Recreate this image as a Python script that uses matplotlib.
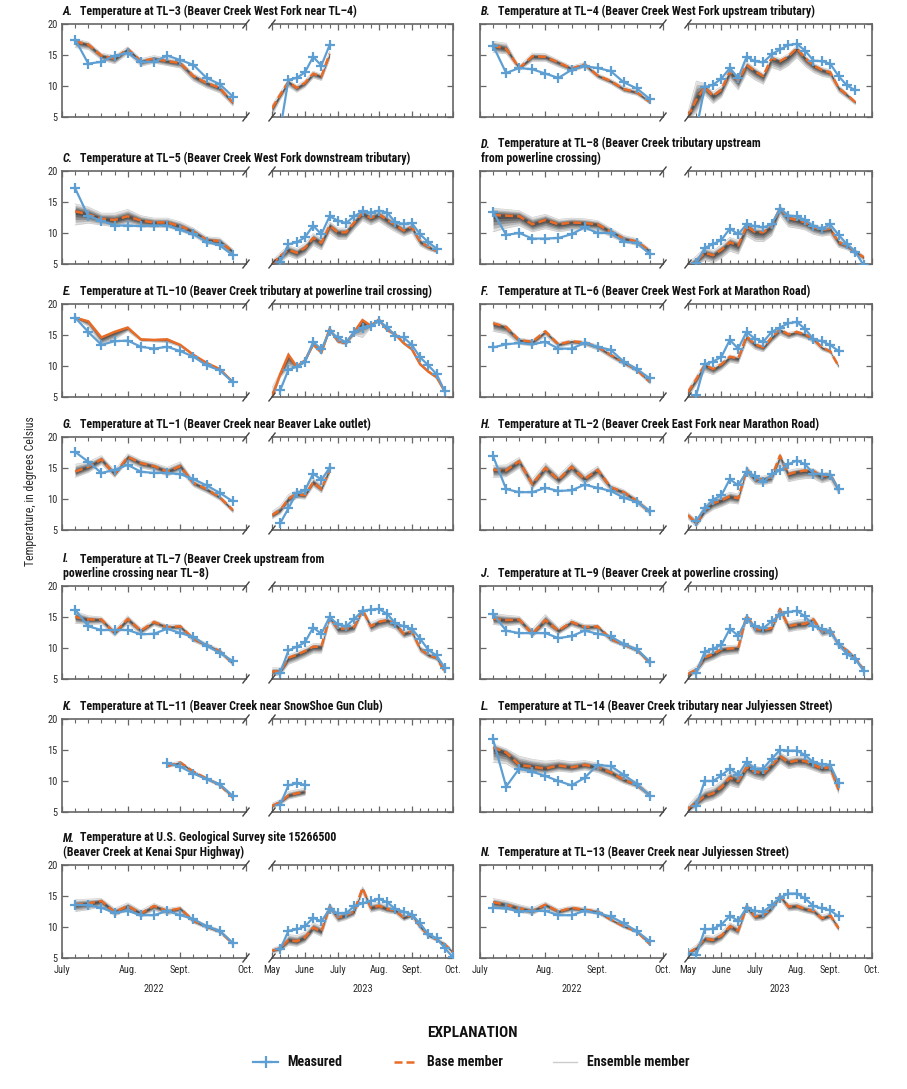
import numpy as np
import matplotlib
matplotlib.use("Agg")
import matplotlib.pyplot as plt
from matplotlib import font_manager

# ---------------- fonts ----------------
_names = {f.name for f in font_manager.fontManager.ttflist}
FONT = "DejaVu Sans"
for _n in ["Liberation Sans Narrow", "DejaVu Sans Condensed", "Roboto Condensed", "Liberation Sans"]:
    if _n in _names:
        FONT = _n
        break
plt.rcParams["font.family"] = [FONT, "DejaVu Sans"]

# ---------------- data (weekly temperatures, deg C) ----------------
# 2022 lists start at week index 1; 2023 lists start at week index 0
A22_meas = [17.5, 13.6, 13.9, 14.9, 15.3, 13.9, 13.9, 14.9, 14.2, 13.4, 11.3, 10.3, 8.3]
A22_base = [17.2, 16.7, 14.9, 14.4, 16.0, 14.0, 14.4, 14.0, 13.7, 11.6, 10.5, 9.7, 7.3]
A22_lo = [16.2, 15.9, 14.2, 13.6, 15.2, 13.2, 13.7, 13.3, 12.9, 10.8, 9.7, 8.9, 6.8]
A22_hi = [17.6, 17.1, 15.3, 14.9, 16.3, 14.4, 14.9, 14.5, 14.1, 12.0, 10.9, 10.1, 7.7]
A23_meas = [None, 3.0, 11.0, 11.3, 12.2, 14.7, 13.3, 16.6]
A23_base = [6.4, 8.6, 10.7, 9.7, 10.5, 12.0, 11.5, 15.2]
A23_lo = [5.3, 7.8, 9.9, 9.0, 9.8, 11.3, 10.9, 14.3]
A23_hi = [6.9, 9.0, 11.0, 10.1, 10.9, 12.4, 11.9, 15.6]

B22_meas = [16.5, 12.1, 12.9, 12.7, 12.0, 11.3, 12.6, 13.2, 12.9, 12.4, 10.6, 9.6, 7.9]
B22_base = [16.5, 16.0, 12.9, 14.8, 14.7, 13.8, 12.8, 13.5, 11.7, 10.8, 9.5, 9.0, 7.4]
B22_lo = [15.4, 15.2, 12.5, 14.0, 14.0, 13.1, 12.3, 13.0, 11.2, 10.3, 9.0, 8.5, 7.1]
B22_hi = [17.2, 16.9, 13.2, 15.3, 15.2, 14.2, 13.2, 13.8, 12.0, 11.1, 9.9, 9.3, 7.7]
B23_meas = [None, 3.0, 9.8, 10.2, 11.2, 12.9, 11.3, 14.7, 14.0, 13.8, 15.1, 15.9, 16.6, 16.8, 15.7, 14.1, 14.0, 13.6, 11.6, 10.1, 9.3]
B23_base = [5.1, 7.8, 9.8, 8.4, 9.4, 12.4, 10.8, 13.4, 12.4, 11.6, 14.5, 14.0, 14.8, 16.1, 14.5, 13.3, 12.6, 12.2, 9.7, 8.6, 7.4]
B23_lo = [4.5, 5.8, 8.6, 7.2, 8.2, 11.0, 9.4, 12.0, 11.0, 10.3, 13.0, 12.5, 13.3, 14.6, 13.2, 12.2, 11.6, 11.3, 9.0, 8.0, 7.0]
B23_hi = [5.8, 10.8, 10.4, 9.0, 10.0, 12.9, 11.3, 13.9, 12.9, 12.0, 14.9, 14.4, 15.2, 16.5, 14.9, 13.7, 13.0, 12.6, 10.1, 8.9, 7.6]

C22_meas = [17.2, 12.7, 12.0, 11.2, 11.2, 11.1, 11.2, 11.2, 10.5, 9.8, 8.6, 8.0, 6.4]
C22_base = [13.5, 13.0, 12.3, 12.1, 12.7, 12.0, 11.7, 11.7, 11.1, 10.2, 8.9, 8.7, 7.0]
C22_lo = [11.3, 11.6, 11.3, 11.0, 11.5, 11.0, 10.9, 10.9, 10.3, 9.5, 8.2, 8.0, 6.4]
C22_hi = [14.7, 14.2, 13.2, 13.2, 13.8, 12.8, 12.4, 12.4, 11.8, 10.8, 9.4, 9.2, 7.4]
C23_meas = [None, 5.3, 8.2, 8.5, 9.3, 11.2, 9.8, 12.7, 12.0, 11.6, 12.7, 13.5, 13.3, 13.6, 13.3, 11.7, 11.5, 11.6, 9.8, 8.5, 7.5]
C23_base = [5.0, 6.3, 7.3, 6.8, 7.6, 9.2, 8.4, 11.2, 10.1, 10.1, 11.7, 13.2, 12.4, 13.0, 12.1, 11.3, 10.4, 11.0, 8.6, 7.8, 7.1]
C23_lo = [4.6, 5.3, 6.3, 5.8, 6.5, 8.0, 7.3, 10.0, 9.0, 9.0, 10.6, 12.0, 11.3, 11.9, 11.0, 10.2, 9.5, 10.0, 7.9, 7.2, 6.8]
C23_hi = [5.5, 6.8, 8.0, 7.5, 8.3, 9.9, 9.1, 11.8, 10.8, 10.8, 12.4, 13.8, 13.1, 13.6, 12.7, 11.9, 11.0, 11.5, 9.1, 8.2, 7.4]

D22_meas = [13.4, 9.7, 10.0, 9.1, 9.1, 9.2, 9.8, 10.9, 10.0, 10.0, 8.6, 8.4, 6.6]
D22_base = [12.9, 12.8, 12.7, 11.4, 12.1, 11.4, 11.7, 11.6, 11.4, 10.2, 9.1, 8.6, 7.1]
D22_lo = [10.2, 10.8, 11.2, 10.2, 10.7, 10.2, 10.5, 10.5, 10.4, 9.4, 8.5, 8.0, 6.6]
D22_hi = [14.0, 13.8, 13.6, 12.5, 13.0, 12.2, 12.4, 12.3, 12.0, 10.8, 9.6, 9.1, 7.4]
D23_meas = [None, 5.2, 7.6, 8.2, 8.9, 10.7, 9.8, 11.4, 11.1, 10.9, 11.4, 13.9, 12.8, 12.7, 12.1, 11.1, 10.7, 11.4, 9.7, 8.2, 7.0, 4.8]
D23_base = [4.6, 5.5, 6.8, 6.4, 7.3, 8.5, 8.0, 11.1, 10.2, 10.1, 11.1, 14.0, 12.4, 12.1, 11.7, 10.9, 10.5, 10.7, 8.5, 8.0, 7.0, 6.1]
D23_lo = [4.3, 4.8, 5.6, 5.2, 6.0, 7.1, 6.6, 9.5, 8.7, 8.6, 9.6, 12.8, 11.0, 10.8, 10.5, 9.8, 9.5, 9.7, 7.7, 7.3, 6.5, 5.6]
D23_hi = [5.2, 6.3, 7.6, 7.2, 8.1, 9.3, 8.8, 11.8, 10.8, 10.7, 11.7, 14.4, 13.0, 12.7, 12.3, 11.4, 11.0, 11.2, 9.0, 8.4, 7.3, 6.4]

E22_meas = [17.8, 15.5, 13.4, 14.0, 14.1, 13.1, 12.8, 13.1, 12.4, 11.5, 10.1, 9.3, 7.4]
E22_base = [17.8, 17.2, 14.6, 15.5, 16.2, 14.3, 14.2, 14.3, 13.4, 11.8, 10.5, 9.5, 7.4]
E22_lo = [17.6, 16.4, 13.4, 14.3, 15.6, 14.0, 13.9, 13.8, 13.1, 11.6, 10.3, 9.3, 7.3]
E22_hi = [17.9, 17.3, 14.7, 15.6, 16.3, 14.4, 14.3, 14.4, 13.5, 11.9, 10.6, 9.6, 7.5]
E23_meas = [None, 6.1, 9.4, 9.9, 10.6, 13.9, 12.7, 15.6, 14.6, 13.8, 15.5, 16.2, 16.5, 17.2, 16.3, 14.8, 14.6, 13.4, 11.4, 10.1, 8.7, 5.9]
E23_base = [5.0, 8.7, 11.8, 9.9, 10.9, 13.5, 12.2, 16.0, 14.0, 13.7, 15.5, 17.4, 16.5, 17.5, 15.8, 15.1, 13.7, 12.7, 10.3, 9.1, 8.2, 5.9]
E23_lo = [4.6, 8.2, 9.6, 9.7, 10.6, 13.2, 11.9, 15.6, 13.7, 13.4, 15.0, 14.6, 16.2, 17.2, 15.6, 14.8, 13.5, 12.5, 10.1, 8.9, 8.0, 5.7]
E23_hi = [6.5, 9.0, 12.0, 10.1, 11.1, 13.7, 12.4, 16.2, 14.2, 13.9, 15.7, 17.5, 16.7, 17.6, 16.0, 15.3, 13.9, 12.9, 10.5, 9.3, 8.4, 6.1]

F22_meas = [13.0, 13.5, 13.7, 13.5, 13.9, 12.8, 12.8, 13.7, 13.1, 12.6, 10.7, 9.5, 8.0]
F22_base = [16.9, 16.3, 14.2, 13.9, 15.6, 13.5, 14.0, 13.8, 13.1, 11.8, 10.6, 9.4, 7.4]
F22_lo = [15.6, 15.2, 13.5, 13.2, 14.9, 13.0, 13.5, 13.3, 12.6, 11.3, 10.1, 9.0, 7.1]
F22_hi = [17.2, 16.6, 14.5, 14.2, 15.8, 13.8, 14.2, 14.0, 13.4, 12.1, 10.9, 9.7, 7.6]
F23_meas = [None, 5.4, 10.3, 10.7, 11.5, 14.2, 12.8, 15.5, 14.4, 13.9, 15.5, 16.2, 16.9, 17.1, 16.0, 14.3, 14.0, 13.4, 12.4]
F23_base = [5.8, 7.9, 10.2, 9.5, 10.3, 11.5, 11.2, 14.8, 13.5, 13.0, 14.6, 15.9, 15.1, 15.5, 15.1, 14.4, 13.0, 12.4, 10.0]
F23_lo = [5.0, 7.0, 9.1, 8.6, 9.4, 10.6, 10.4, 13.9, 12.7, 12.3, 13.8, 15.0, 14.4, 14.8, 14.4, 13.8, 12.5, 12.0, 9.7]
F23_hi = [6.2, 8.4, 10.5, 9.8, 10.6, 11.8, 11.5, 15.1, 13.8, 13.3, 14.9, 16.1, 15.4, 15.7, 15.3, 14.6, 13.2, 12.6, 10.2]

G22_meas = [17.6, 16.0, 14.2, 14.7, 15.5, 14.4, 14.2, 14.2, 14.0, 13.2, 12.2, 11.0, 9.6]
G22_base = [14.4, 15.2, 16.4, 14.0, 16.8, 15.8, 15.3, 14.4, 15.3, 12.6, 11.6, 10.3, 8.2]
G22_lo = [13.5, 14.3, 15.6, 13.5, 16.0, 15.0, 14.6, 13.7, 14.5, 12.0, 11.0, 9.8, 7.8]
G22_hi = [15.6, 16.0, 17.0, 14.6, 17.3, 16.3, 15.8, 15.1, 16.0, 13.0, 12.0, 10.6, 8.5]
G23_meas = [None, 6.1, 8.5, 11.0, 11.4, 14.1, 13.1, 15.0]
G23_base = [7.4, 8.2, 10.0, 10.8, 10.6, 12.7, 11.6, 14.7]
G23_lo = [6.8, 7.6, 9.3, 10.1, 10.0, 12.0, 11.0, 14.0]
G23_hi = [8.0, 8.9, 10.7, 11.4, 11.3, 13.4, 12.3, 15.6]

H22_meas = [16.9, 11.6, 11.1, 11.1, 11.8, 11.3, 11.4, 12.3, 11.8, 11.3, 10.2, 9.5, 8.1]
H22_base = [14.7, 14.6, 16.1, 12.4, 15.0, 13.1, 15.2, 13.2, 14.7, 11.9, 11.1, 9.7, 7.9]
H22_lo = [13.5, 13.6, 15.0, 11.6, 14.0, 12.3, 14.1, 12.4, 13.7, 11.2, 10.5, 9.2, 7.5]
H22_hi = [15.4, 15.5, 16.7, 13.2, 15.8, 13.8, 15.9, 13.9, 15.3, 12.3, 11.5, 10.1, 8.2]
H23_meas = [None, 6.5, 8.5, 9.9, 10.6, 13.2, 12.2, 14.4, 13.7, 12.7, 14.0, 14.6, 15.6, 16.2, 15.6, 14.1, 14.0, 13.9, 11.6]
H23_base = [7.4, 6.1, 8.2, 9.3, 9.8, 10.4, 10.1, 14.8, 13.2, 13.2, 13.5, 17.0, 14.0, 14.4, 14.6, 14.5, 13.6, 14.0, 11.5]
H23_lo = [6.8, 5.5, 7.4, 8.3, 8.8, 9.4, 9.2, 13.9, 12.4, 12.3, 12.6, 15.8, 12.8, 13.1, 13.3, 13.3, 12.6, 13.0, 10.8]
H23_hi = [7.8, 6.6, 9.0, 10.0, 10.5, 11.1, 10.8, 15.3, 13.7, 13.7, 14.0, 17.3, 14.6, 14.9, 15.0, 14.9, 14.1, 14.4, 11.9]

I22_meas = [16.2, 13.5, 12.9, 12.9, 12.9, 12.2, 12.3, 13.1, 12.4, 11.8, 10.4, 9.2, 7.9]
I22_base = [15.0, 14.6, 14.6, 12.4, 14.7, 12.8, 14.2, 13.4, 13.5, 11.5, 10.5, 9.5, 7.5]
I22_lo = [14.0, 13.8, 13.9, 11.9, 13.9, 12.2, 13.6, 12.9, 12.9, 11.0, 10.1, 9.1, 7.2]
I22_hi = [15.9, 15.2, 15.0, 12.9, 15.2, 13.2, 14.5, 13.7, 13.8, 11.8, 10.8, 9.8, 7.8]
I23_meas = [None, 6.0, 9.6, 10.2, 10.9, 13.3, 12.3, 15.0, 13.8, 13.5, 14.7, 16.0, 16.2, 16.3, 15.5, 14.0, 13.5, 13.1, 11.5, 9.7, 8.8, 6.8]
I23_base = [6.2, 6.2, 8.4, 8.9, 9.5, 10.2, 10.2, 15.0, 13.1, 13.1, 13.4, 16.2, 13.5, 14.2, 14.5, 13.9, 12.3, 12.7, 9.9, 8.9, 8.4, 6.2]
I23_lo = [5.6, 5.6, 7.4, 7.9, 8.5, 9.2, 9.2, 14.3, 12.2, 12.2, 12.6, 15.6, 12.6, 13.2, 13.5, 13.0, 11.6, 12.0, 9.3, 8.4, 8.0, 5.9]
I23_hi = [6.8, 6.8, 8.9, 9.4, 10.0, 10.7, 10.7, 15.2, 13.6, 13.6, 13.9, 16.4, 14.1, 14.7, 14.9, 14.3, 12.8, 13.1, 10.3, 9.3, 8.7, 6.5]

J22_meas = [15.5, 12.8, 12.4, 12.4, 12.4, 11.6, 11.9, 12.8, 12.3, 11.9, 10.6, 9.8, 7.8]
J22_base = [14.7, 14.5, 14.6, 12.3, 14.5, 12.8, 14.2, 13.4, 13.5, 11.5, 10.6, 9.7, 7.6]
J22_lo = [13.8, 13.6, 13.8, 11.8, 13.6, 12.2, 13.5, 12.8, 12.9, 11.0, 10.2, 9.3, 7.3]
J22_hi = [15.6, 15.3, 15.1, 13.0, 15.4, 13.3, 14.6, 13.8, 13.8, 11.8, 10.9, 10.0, 7.9]
J23_meas = [None, 6.0, 9.4, 9.9, 10.5, 13.1, 12.0, 14.6, 13.5, 13.2, 14.3, 15.3, 15.8, 16.0, 15.1, 13.5, 13.1, 12.6, 10.7, 9.0, 8.2, 6.3]
J23_base = [5.8, 6.5, 8.5, 9.0, 9.8, 9.9, 10.0, 15.3, 13.1, 12.9, 13.2, 16.3, 13.5, 13.8, 13.9, 14.6, 12.6, 12.9, 10.6, 9.6, 8.4, 6.5]
J23_lo = [5.3, 5.9, 7.6, 8.1, 8.8, 9.0, 9.1, 14.6, 12.3, 12.1, 12.4, 15.7, 12.6, 12.9, 13.0, 13.8, 11.9, 12.2, 10.0, 9.1, 8.0, 6.2]
J23_hi = [6.3, 7.0, 9.1, 9.6, 10.3, 10.4, 10.5, 15.5, 13.6, 13.4, 13.7, 16.5, 14.2, 14.5, 14.6, 15.0, 13.0, 13.3, 11.0, 9.9, 8.7, 6.8]

K22_meas = [None, None, None, None, None, None, None, 12.9, 12.3, 11.2, 10.3, 9.5, 7.6]
K22_base = [None, None, None, None, None, None, None, 12.4, 13.0, 11.5, 10.4, 9.4, 7.3]
K22_lo = [None, None, None, None, None, None, None, 12.2, 12.6, 11.2, 10.1, 9.1, 7.1]
K22_hi = [None, None, None, None, None, None, None, 12.8, 13.2, 11.7, 10.6, 9.6, 7.5]
K23_meas = [None, 6.2, 9.3, 9.6, 9.4]
K23_base = [6.0, 6.6, 7.7, 8.0, 8.3]
K23_lo = [5.6, 6.2, 7.1, 7.4, 7.7]
K23_hi = [6.4, 7.0, 8.3, 8.6, 8.8]

L22_meas = [16.7, 9.1, 12.0, 11.5, 10.8, 10.0, 9.3, 10.5, 12.6, 12.4, 11.0, 9.5, 7.6]
L22_base = [15.4, 14.6, 12.6, 12.3, 12.0, 12.5, 12.2, 12.6, 12.2, 11.4, 10.2, 9.4, 7.7]
L22_lo = [13.0, 12.8, 11.5, 11.3, 11.2, 11.6, 11.4, 11.8, 11.4, 10.6, 9.6, 8.9, 7.3]
L22_hi = [16.0, 15.2, 14.0, 13.5, 13.2, 13.4, 13.1, 13.3, 12.9, 12.0, 10.8, 9.9, 8.1]
L23_meas = [None, 6.0, 10.0, 10.0, 10.9, 12.0, 11.0, 13.1, 12.0, 12.0, 13.6, 15.0, 14.9, 14.9, 14.2, 13.0, 12.7, 12.6, 9.7]
L23_base = [5.5, 6.5, 7.6, 8.0, 9.0, 10.5, 10.0, 12.2, 11.5, 11.2, 12.5, 14.0, 13.0, 13.3, 13.2, 12.6, 12.0, 12.2, 8.6]
L23_lo = [5.0, 5.8, 6.6, 7.0, 7.8, 9.3, 8.9, 11.0, 10.4, 10.1, 11.4, 12.9, 12.0, 12.3, 12.2, 11.7, 11.2, 11.3, 8.0]
L23_hi = [6.0, 7.6, 8.6, 9.0, 10.0, 11.5, 11.0, 13.2, 12.4, 12.1, 13.4, 14.6, 13.8, 14.0, 13.9, 13.3, 12.7, 12.8, 9.2]

M22_meas = [13.6, 13.5, 13.1, 12.3, 12.6, 11.9, 11.9, 12.6, 11.9, 11.3, 10.1, 9.4, 7.4]
M22_base = [13.6, 13.8, 14.2, 12.4, 13.4, 12.2, 13.4, 12.6, 13.0, 11.0, 10.1, 9.3, 7.3]
M22_lo = [12.5, 12.8, 13.3, 11.8, 12.7, 11.6, 12.7, 12.0, 12.4, 10.6, 9.7, 9.0, 7.1]
M22_hi = [14.4, 14.5, 14.6, 13.0, 13.9, 12.7, 13.8, 13.0, 13.3, 11.3, 10.4, 9.6, 7.6]
M23_meas = [None, 6.4, 9.4, 9.6, 10.1, 11.5, 10.9, 12.9, 12.2, 12.2, 13.4, 13.8, 14.2, 14.5, 14.0, 12.9, 12.5, 12.0, 10.6, 8.8, 8.2, 6.6, 5.1]
M23_base = [6.2, 6.6, 7.9, 7.7, 8.3, 9.9, 9.3, 13.3, 11.5, 11.9, 12.5, 16.3, 13.1, 13.4, 12.9, 12.7, 11.5, 12.0, 10.1, 8.7, 8.0, 7.2, 5.9]
M23_lo = [5.8, 6.1, 7.1, 6.9, 7.5, 9.1, 8.5, 12.6, 10.8, 11.2, 11.8, 15.5, 12.4, 12.7, 12.3, 12.1, 11.0, 11.5, 9.6, 8.3, 7.7, 6.9, 5.6]
M23_hi = [6.5, 7.0, 8.8, 8.6, 9.2, 10.7, 10.1, 13.8, 12.1, 12.5, 13.1, 16.5, 13.8, 14.0, 13.5, 13.2, 12.0, 12.4, 10.5, 9.0, 8.3, 7.5, 6.2]

N22_meas = [13.1, 13.0, 12.5, 12.6, 12.6, 11.9, 11.9, 12.6, 12.2, 11.7, 10.6, 9.3, 7.7]
N22_base = [14.0, 13.6, 13.0, 12.6, 13.6, 12.5, 13.1, 12.8, 12.5, 11.2, 10.1, 9.3, 7.2]
N22_lo = [13.0, 12.8, 12.4, 12.0, 13.0, 12.0, 12.5, 12.3, 12.1, 10.9, 9.8, 9.0, 7.0]
N22_hi = [14.6, 14.2, 13.6, 13.1, 14.0, 12.9, 13.4, 13.1, 12.8, 11.5, 10.4, 9.6, 7.4]
N23_meas = [5.8, 5.5, 9.6, 9.7, 10.4, 11.8, 11.0, 13.1, 12.6, 12.5, 13.5, 14.7, 15.4, 15.4, 14.6, 13.4, 13.0, 12.7, 11.7]
N23_base = [5.8, 6.6, 8.1, 7.9, 8.6, 10.1, 9.4, 13.3, 11.7, 11.9, 13.1, 15.0, 13.3, 13.4, 12.9, 12.6, 11.4, 11.9, 9.8]
N23_lo = [5.4, 6.0, 7.3, 7.1, 7.8, 9.3, 8.7, 12.6, 11.0, 11.2, 12.4, 14.4, 12.6, 12.7, 12.3, 12.0, 10.9, 11.3, 9.4]
N23_hi = [6.2, 7.1, 8.7, 8.5, 9.2, 10.7, 10.0, 13.8, 12.2, 12.4, 13.6, 15.3, 13.8, 13.9, 13.4, 13.1, 11.9, 12.3, 10.2]

letters = ["A", "B", "C", "D", "E", "F", "G", "H", "I", "J", "K", "L", "M", "N"]
titles = [
    ["Temperature at TL\u20133 (Beaver Creek West Fork near TL\u20134)"],
    ["Temperature at TL\u20134 (Beaver Creek West Fork upstream tributary)"],
    ["Temperature at TL\u20135 (Beaver Creek West Fork downstream tributary)"],
    ["Temperature at TL\u20138 (Beaver Creek tributary upstream", "from powerline crossing)"],
    ["Temperature at TL\u201310 (Beaver Creek tributary at powerline trail crossing)"],
    ["Temperature at TL\u20136 (Beaver Creek West Fork at Marathon Road)"],
    ["Temperature at TL\u20131 (Beaver Creek near Beaver Lake outlet)"],
    ["Temperature at TL\u20132 (Beaver Creek East Fork near Marathon Road)"],
    ["Temperature at TL\u20137 (Beaver Creek upstream from", "powerline crossing near TL\u20138)"],
    ["Temperature at TL\u20139 (Beaver Creek at powerline crossing)"],
    ["Temperature at TL\u201311 (Beaver Creek near SnowShoe Gun Club)"],
    ["Temperature at TL\u201314 (Beaver Creek tributary near Julyiessen Street)"],
    ["Temperature at U.S. Geological Survey site 15266500", "(Beaver Creek at Kenai Spur Highway)"],
    ["Temperature at TL\u201313 (Beaver Creek near Julyiessen Street)"],
]
months22 = ["July", "Aug.", "Sept.", "Oct."]
month_pos22 = [0, 5, 9, 14]
months23 = ["May", "June", "July", "Aug.", "Sept.", "Oct."]
month_pos23 = [0, 4, 8, 13, 17, 22]
years = ["2022", "2023"]
yticks = [5, 10, 15, 20]

series = {}
for L in letters:
    g = globals()
    series[L] = (g[L + "22_meas"], g[L + "22_base"], g[L + "22_lo"], g[L + "22_hi"],
                 g[L + "23_meas"], g[L + "23_base"], g[L + "23_lo"], g[L + "23_hi"])

# ---------------- style ----------------
BLUE = "#5e9fd3"
ORANGE = "#ea6b26"
SPINE = "#666666"
TXT = "#2b2b2b"
SOLID_BASE = {"E"}
TFS = 8.6

W, H = 907, 1089
fig = plt.figure(figsize=(W / 100, H / 100), dpi=100)
fig.patch.set_facecolor("white")

cols = [(62, 246, 272, 453), (480, 663, 688, 872)]
row_tops = [24, 171, 304, 437, 586, 719, 865]
AX_H = 93


def px_axes(x0, y0, x1, y1):
    return fig.add_axes([x0 / W, 1 - y1 / H, (x1 - x0) / W, (y1 - y0) / H])


def arr(v):
    return np.array([np.nan if a is None else a for a in v], dtype=float)


def draw_segment(ax, x0, meas, base, lo, hi, solid):
    m, b, l, h = arr(meas), arr(base), arr(lo), arr(hi)
    xb = np.arange(len(b)) + x0
    # ensemble envelope, shaded darker toward the base member
    for t, a in ((0.0, 0.14), (0.2, 0.2), (0.4, 0.25), (0.6, 0.3), (0.78, 0.35)):
        ax.fill_between(xb, l + (b - l) * t, h + (b - h) * t, color="0.12",
                        alpha=a, lw=0, zorder=1)
    ax.plot(xb, l, color="0.8", lw=0.5, zorder=1.5)
    ax.plot(xb, h, color="0.8", lw=0.5, zorder=1.5)
    ax.plot(xb, b, color=ORANGE, lw=1.8, ls="-" if solid else (0, (3.2, 1.6)),
            zorder=3, solid_joinstyle="miter")
    xm = np.arange(len(m)) + x0
    ax.plot(xm, m, color=BLUE, lw=1.6, marker="+", ms=7.5, mew=1.6, zorder=4)


def setup(ax, xmax, majors, side, ylabels, bottom, mlabels):
    ax.set_xlim(0, xmax)
    ax.set_ylim(5, 20)
    ax.set_xticks(majors)
    ax.set_xticks(range(xmax + 1), minor=True)
    ax.set_yticks(yticks)
    for s in ax.spines.values():
        s.set_color(SPINE)
        s.set_linewidth(1.2)
    ax.tick_params(axis="both", which="both", direction="in", color=SPINE,
                   top=True, bottom=True, labelcolor=TXT, labelsize=7.5)
    ax.tick_params(which="major", length=4, width=0.9)
    ax.tick_params(which="minor", length=2.6, width=0.8)
    if side == "left":
        ax.spines["right"].set_visible(False)
        ax.tick_params(axis="y", left=True, right=False, labelleft=ylabels, pad=3)
        if ylabels:
            ax.set_yticklabels([str(v) for v in yticks])
    else:
        ax.spines["left"].set_visible(False)
        ax.tick_params(axis="y", left=False, right=True, labelleft=False, labelright=False)
    if bottom:
        ax.set_xticklabels(mlabels)
        ax.tick_params(axis="x", labelbottom=True, pad=5)
    else:
        ax.tick_params(axis="x", labelbottom=False)


tops_used = []
for i, L in enumerate(letters):
    r, c = divmod(i, 2)
    top = row_tops[r]
    bot = top + AX_H
    x0, x1, x2, x3 = cols[c]
    m22, b22, l22, h22, m23, b23, l23, h23 = series[L]
    ax1 = px_axes(x0, top, x1, bot)
    ax2 = px_axes(x2, top, x3, bot)
    bottom = (r == len(row_tops) - 1)
    setup(ax1, 14, month_pos22, "left", c == 0, bottom, months22)
    setup(ax2, 22, month_pos23, "right", False, bottom, months23)
    draw_segment(ax1, 1, m22, b22, l22, h22, L in SOLID_BASE)
    draw_segment(ax2, 0, m23, b23, l23, h23, L in SOLID_BASE)
    tops_used.append((L, r, c, top, bot))

# ---------------- overlay in pixel coordinates ----------------
ov = fig.add_axes([0, 0, 1, 1], zorder=10)
ov.set_xlim(0, W)
ov.set_ylim(H, 0)
ov.axis("off")
ov.patch.set_alpha(0)

for (L, r, c, top, bot) in tops_used:
    x0, x1, x2, x3 = cols[c]
    for xb in (x1, x2):
        for yb in (top, bot):
            ov.plot([xb - 3.5, xb + 3.5], [yb + 4.5, yb - 4.5], color="#444444", lw=1.0,
                    solid_capstyle="butt")
    lines = titles[letters.index(L)]
    ybase = top - 6
    if len(lines) == 1:
        ov.text(x0 + 1, ybase, L + ".", fontsize=TFS, fontweight="bold", fontstyle="italic",
                color="#111111", va="bottom", ha="left")
        ov.text(x0 + 18, ybase, lines[0], fontsize=TFS, fontweight="bold",
                color="#111111", va="bottom", ha="left")
    else:
        y1 = ybase - 14.5
        ov.text(x0 + 1, y1, L + ".", fontsize=TFS, fontweight="bold", fontstyle="italic",
                color="#111111", va="bottom", ha="left")
        ov.text(x0 + 18, y1, lines[0], fontsize=TFS, fontweight="bold",
                color="#111111", va="bottom", ha="left")
        ov.text(x0 + 1, ybase, lines[1], fontsize=TFS, fontweight="bold",
                color="#111111", va="bottom", ha="left")

# year labels
for c in range(2):
    x0, x1, x2, x3 = cols[c]
    ov.text((x0 + x1) / 2, 989, years[0], fontsize=7.5, color=TXT, ha="center", va="center")
    ov.text((x2 + x3) / 2, 989, years[1], fontsize=7.5, color=TXT, ha="center", va="center")

# y-axis label
ov.text(31, 491, "Temperature, in degrees Celsius", rotation=90, fontsize=8.5, color=TXT,
        ha="center", va="center")

# explanation
ov.text(472, 1033, "EXPLANATION", fontsize=11, fontweight="bold", color="#111111",
        ha="center", va="center")
ly = 1062
ov.plot([253, 278], [ly, ly], color=BLUE, lw=1.6)
ov.plot([265.5], [ly], color=BLUE, marker="+", ms=9, mew=1.6)
ov.text(287, ly, "Measured", fontsize=10, fontweight="bold", color="#111111", ha="left", va="center")
ov.plot([394, 418], [ly, ly], color=ORANGE, lw=1.8, ls=(0, (3.2, 1.6)))
ov.text(427, ly, "Base member", fontsize=10, fontweight="bold", color="#111111", ha="left", va="center")
ov.plot([553, 577], [ly, ly], color="0.8", lw=1.0)
ov.text(587, ly, "Ensemble member", fontsize=10, fontweight="bold", color="#111111", ha="left", va="center")

fig.savefig("out.png", dpi=100, facecolor="white")
